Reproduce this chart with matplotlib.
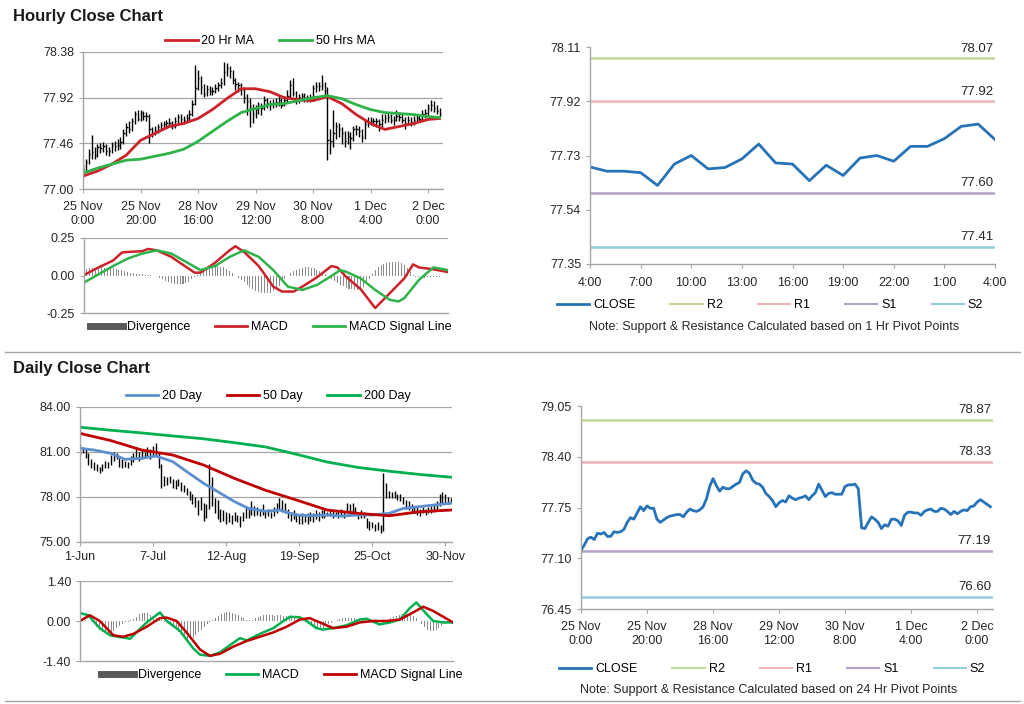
import matplotlib
matplotlib.use('Agg')
import matplotlib.pyplot as plt
from matplotlib.lines import Line2D
import numpy as np

plt.rcParams['font.family'] = ['Liberation Sans', 'DejaVu Sans']
plt.rcParams['font.size'] = 9

# ---------------- hourly data (125 bars) ----------------
h_close = [77.20, 77.27, 77.35, 77.37, 77.34, 77.42, 77.41, 77.43, 77.38, 77.38,
           77.44, 77.43, 77.44, 77.47, 77.56, 77.62, 77.60, 77.68, 77.76, 77.71,
           77.77, 77.74, 77.74, 77.60, 77.56, 77.59, 77.62, 77.64, 77.65, 77.66,
           77.66, 77.63, 77.69, 77.73, 77.71, 77.70, 77.72, 77.76, 77.86, 78.02,
           78.12, 78.03, 77.96, 78.01, 77.99, 77.99, 78.02, 78.05, 78.07, 78.18,
           78.22, 78.19, 78.10, 78.06, 78.05, 78.01, 77.93, 77.89, 77.84, 77.76,
           77.81, 77.84, 77.82, 77.90, 77.87, 77.85, 77.87, 77.88, 77.90, 77.85,
           77.90, 77.94, 78.05, 77.97, 77.89, 77.93, 77.94, 77.92, 77.92, 77.92,
           78.02, 78.04, 78.04, 78.05, 77.99, 77.49, 77.48, 77.56, 77.63, 77.60,
           77.56, 77.48, 77.53, 77.51, 77.60, 77.60, 77.58, 77.52, 77.65, 77.69,
           77.69, 77.68, 77.68, 77.65, 77.70, 77.72, 77.73, 77.70, 77.70, 77.74,
           77.73, 77.70, 77.66, 77.70, 77.67, 77.70, 77.72, 77.71, 77.76, 77.77,
           77.82, 77.85, 77.82, 77.79, 77.76]
h_high = [77.25, 77.30, 77.40, 77.54, 77.42, 77.45, 77.46, 77.47, 77.45, 77.42,
          77.47, 77.48, 77.50, 77.52, 77.60, 77.66, 77.68, 77.72, 77.79, 77.80,
          77.80, 77.79, 77.78, 77.76, 77.62, 77.63, 77.65, 77.67, 77.68, 77.70,
          77.72, 77.68, 77.73, 77.76, 77.76, 77.74, 77.76, 77.80, 77.90, 78.25,
          78.20, 78.14, 78.06, 78.05, 78.04, 78.03, 78.06, 78.08, 78.12, 78.28,
          78.27, 78.24, 78.20, 78.12, 78.08, 78.07, 78.03, 77.96, 77.92, 77.86,
          77.85, 77.88, 77.87, 77.94, 77.92, 77.90, 77.91, 77.92, 77.94, 77.92,
          77.94, 78.00, 78.10, 78.12, 77.99, 77.96, 77.97, 77.97, 77.95, 77.96,
          78.05, 78.08, 78.08, 78.15, 78.08, 78.03, 77.60, 77.80, 77.67, 77.66,
          77.62, 77.58, 77.58, 77.57, 77.63, 77.64, 77.63, 77.60, 77.70, 77.73,
          77.73, 77.72, 77.72, 77.71, 77.76, 77.76, 77.77, 77.76, 77.74, 77.80,
          77.78, 77.76, 77.73, 77.74, 77.73, 77.74, 77.76, 77.76, 77.80, 77.81,
          77.86, 77.90, 77.89, 77.85, 77.82]
h_low = [77.12, 77.18, 77.25, 77.30, 77.30, 77.32, 77.36, 77.37, 77.34, 77.33,
         77.36, 77.38, 77.39, 77.40, 77.45, 77.53, 77.56, 77.58, 77.65, 77.68,
         77.69, 77.70, 77.68, 77.46, 77.52, 77.54, 77.56, 77.59, 77.61, 77.62,
         77.62, 77.60, 77.61, 77.66, 77.66, 77.65, 77.67, 77.69, 77.74, 77.85,
         78.00, 77.96, 77.93, 77.94, 77.95, 77.95, 77.97, 77.99, 78.02, 78.05,
         78.14, 78.12, 78.06, 78.00, 77.98, 77.95, 77.87, 77.75, 77.62, 77.66,
         77.72, 77.76, 77.75, 77.80, 77.82, 77.80, 77.82, 77.83, 77.84, 77.82,
         77.84, 77.88, 77.92, 77.94, 77.86, 77.87, 77.89, 77.88, 77.88, 77.88,
         77.90, 77.98, 77.99, 78.00, 77.95, 77.29, 77.35, 77.42, 77.50, 77.52,
         77.45, 77.42, 77.45, 77.40, 77.48, 77.54, 77.52, 77.47, 77.50, 77.62,
         77.64, 77.63, 77.62, 77.58, 77.62, 77.66, 77.67, 77.66, 77.64, 77.68,
         77.68, 77.66, 77.60, 77.64, 77.63, 77.64, 77.67, 77.67, 77.69, 77.72,
         77.74, 77.79, 77.78, 77.76, 77.73]

# moving averages read every 5 bars
h_ma_x = [0, 5, 10, 15, 20, 25, 30, 35, 40, 45, 50, 55, 60, 65, 70, 75, 80, 85,
          90, 95, 100, 105, 110, 115, 120, 124]
h_ma20 = [77.13, 77.18, 77.25, 77.34, 77.49, 77.56, 77.63, 77.66, 77.71, 77.80,
          77.91, 78.01, 78.01, 77.98, 77.92, 77.90, 77.89, 77.93, 77.86, 77.75,
          77.66, 77.60, 77.63, 77.66, 77.70, 77.71]
h_ma50 = [77.16, 77.21, 77.25, 77.29, 77.30, 77.33, 77.36, 77.40, 77.48, 77.58,
          77.68, 77.77, 77.81, 77.85, 77.86, 77.89, 77.92, 77.94, 77.91, 77.85,
          77.80, 77.77, 77.76, 77.75, 77.73, 77.72]

h_macd_x = [0, 5, 10, 13, 15, 20, 22, 25, 30, 35, 38, 40, 45, 50, 52, 55, 60, 65,
            68, 72, 75, 80, 85, 87, 90, 95, 100, 105, 110, 113, 115, 120, 125]
h_macd = [0.003, 0.054, 0.10, 0.153, 0.157, 0.162, 0.177, 0.168, 0.124, 0.058,
          0.019, 0.019, 0.085, 0.168, 0.195, 0.157, 0.063, -0.074, -0.107, -0.107,
          -0.074, -0.012, 0.063, 0.054, -0.008, -0.091, -0.217, -0.118, -0.019,
          0.074, 0.054, 0.041, 0.023]
h_sig_x = [0, 5, 10, 15, 20, 25, 30, 35, 40, 45, 50, 55, 60, 65, 70, 75, 80, 85,
           88, 90, 95, 100, 105, 108, 110, 115, 120, 125]
h_sig = [-0.047, 0.008, 0.063, 0.113, 0.146, 0.168, 0.146, 0.091, 0.036, 0.063,
         0.124, 0.168, 0.124, 0.036, -0.074, -0.096, -0.063, -0.003, 0.036, 0.025,
         -0.019, -0.096, -0.162, -0.173, -0.151, -0.030, 0.054, 0.036]
h_div = [0.04, 0.045, 0.05, 0.05, 0.052, 0.054, 0.054, 0.052, 0.05, 0.05,
         0.048, 0.045, 0.04, 0.035, 0.03, 0.025, 0.02, 0.015, 0.012, 0.01,
         0.008, 0.006, 0.005, 0.003, 0.0, -0.005, -0.015, -0.025, -0.035, -0.045,
         -0.05, -0.055, -0.058, -0.058, -0.055, -0.05, -0.04, -0.025, -0.01, 0.005,
         0.02, 0.035, 0.045, 0.055, 0.06, 0.063, 0.063, 0.06, 0.055, 0.045,
         0.03, 0.015, 0.0, -0.015, -0.03, -0.045, -0.06, -0.075, -0.09, -0.1,
         -0.108, -0.115, -0.118, -0.118, -0.115, -0.105, -0.09, -0.07, -0.045, -0.02,
         0.0, 0.015, 0.028, 0.038, 0.045, 0.05, 0.054, 0.054, 0.052, 0.048,
         0.04, 0.03, 0.02, 0.008, -0.005, -0.02, -0.035, -0.05, -0.062, -0.072,
         -0.08, -0.088, -0.093, -0.096, -0.096, -0.09, -0.075, -0.05, -0.02, 0.01,
         0.035, 0.055, 0.07, 0.078, 0.083, 0.087, 0.09, 0.091, 0.09, 0.085,
         0.07, 0.05, 0.025, 0.005, -0.008, -0.012, -0.015, -0.015, -0.013, -0.012,
         -0.01, -0.01, -0.008, -0.006, -0.005]
h_ticks = [0, 20, 40, 60, 80, 100, 120]
h_tick_labels = ['25 Nov\n0:00', '25 Nov\n20:00', '28 Nov\n16:00', '29 Nov\n12:00',
                 '30 Nov\n8:00', '1 Dec\n4:00', '2 Dec\n0:00']

# ---------------- last 24 hours ----------------
day_close = [77.69, 77.675, 77.675, 77.67, 77.625, 77.70, 77.73, 77.683, 77.688,
             77.718, 77.77, 77.704, 77.70, 77.642, 77.696, 77.66, 77.721, 77.73,
             77.71, 77.762, 77.762, 77.789, 77.832, 77.84, 77.786]
day_tick_labels = ['4:00', '7:00', '10:00', '13:00', '16:00', '19:00', '22:00',
                   '1:00', '4:00']
pivot_names = ['R2', 'R1', 'S1', 'S2']
pivot_1h = [78.07, 77.92, 77.60, 77.41]
pivot_24h = [78.87, 78.33, 77.19, 76.60]
pivot_colors = ['#c3d69b', '#eab5b4', '#b3a2c7', '#92cddc']

# ---------------- daily data (133 bars) ----------------
d_high = [81.5, 81.3, 81.2, 80.9, 80.5, 80.3, 80.2, 80.0, 80.2, 80.4,
          80.3, 80.8, 81.0, 80.9, 80.6, 80.5, 80.4, 80.3, 80.7, 80.9,
          81.2, 81.0, 81.1, 81.0, 81.3, 81.2, 81.4, 81.6, 81.0, 80.2,
          79.4, 79.3, 79.4, 79.2, 79.1, 79.2, 79.0, 78.8, 78.6, 78.4,
          78.2, 78.0, 77.8, 78.0, 77.6, 77.5, 80.2, 79.3, 77.9, 77.8,
          77.2, 77.1, 77.0, 76.9, 76.8, 77.0, 76.8, 76.7, 77.0, 77.3,
          77.2, 77.7, 77.4, 77.3, 77.2, 77.5, 77.1, 77.2, 77.0, 77.3,
          77.6, 77.9, 77.8, 77.6, 77.2, 77.0, 77.1, 76.9, 76.8, 76.9,
          76.8, 76.9, 77.0, 76.9, 77.1, 77.0, 77.1, 77.2, 77.0, 77.2,
          77.1, 77.0, 77.1, 77.2, 77.0, 77.6, 77.5, 77.6, 77.3, 77.0,
          77.1, 77.0, 76.6, 76.4, 76.3, 76.2, 76.3, 76.1, 79.6, 78.9,
          78.4, 78.3, 78.4, 78.2, 78.2, 78.0, 77.8, 77.7, 77.5, 77.4,
          77.3, 77.2, 77.3, 77.2, 77.3, 77.4, 77.5, 77.7, 78.2, 78.3,
          78.2, 78.0, 77.9]
d_low = [80.8, 80.9, 80.6, 80.1, 79.9, 79.8, 79.7, 79.6, 79.7, 79.9,
         79.9, 80.1, 80.4, 80.5, 80.0, 79.9, 80.0, 79.9, 80.1, 80.3,
         80.5, 80.4, 80.5, 80.6, 80.7, 80.5, 80.7, 80.8, 79.9, 78.6,
         78.7, 78.8, 78.9, 78.6, 78.5, 78.7, 78.4, 78.3, 78.1, 77.8,
         77.5, 77.3, 76.8, 77.1, 76.4, 76.6, 77.2, 77.4, 76.9, 76.5,
         76.3, 76.4, 76.2, 76.3, 76.2, 76.4, 76.3, 76.0, 76.4, 76.6,
         76.6, 76.8, 76.7, 76.8, 76.7, 76.8, 76.6, 76.7, 76.6, 76.7,
         76.9, 77.1, 77.0, 76.9, 76.6, 76.4, 76.5, 76.3, 76.2, 76.2,
         76.3, 76.2, 76.4, 76.3, 76.5, 76.4, 76.6, 76.6, 76.7, 76.7,
         76.6, 76.7, 76.6, 76.8, 76.6, 76.9, 76.8, 76.9, 76.8, 76.5,
         76.6, 76.6, 75.9, 75.8, 75.9, 75.7, 75.8, 75.6, 75.7, 77.9,
         77.9, 77.9, 77.9, 77.8, 77.7, 77.5, 77.2, 77.1, 77.0, 76.9,
         76.8, 76.7, 76.9, 76.8, 76.9, 76.9, 77.0, 77.1, 77.4, 77.6,
         77.6, 77.5, 77.6]

d_ma20_x = [0, 5, 11, 16, 22, 27, 33, 38, 44, 49, 55, 60, 66, 71, 77, 82, 88, 93,
            99, 104, 110, 115, 121, 126, 132]
d_ma20 = [81.24, 81.13, 80.91, 80.51, 80.58, 80.73, 80.36, 79.69, 78.91, 78.36,
          77.69, 77.24, 77.05, 77.13, 76.80, 76.76, 76.80, 76.73, 76.80, 76.80,
          76.91, 77.24, 77.36, 77.47, 77.58]
d_ma_x = [0, 11, 22, 33, 44, 55, 66, 77, 88, 99, 110, 121, 132]
d_ma50 = [82.24, 81.76, 81.13, 80.80, 80.13, 79.24, 78.45, 77.80, 77.13, 76.91,
          76.75, 77.02, 77.13]
d_ma200 = [82.65, 82.45, 82.27, 82.07, 81.88, 81.62, 81.34, 80.85, 80.33, 79.97,
           79.72, 79.50, 79.32]

d_macd_x = [0, 3, 5, 7, 10.6, 17.7, 21, 23.6, 28.3, 30.7, 35.4, 40, 42.5, 46, 49.5,
            53, 56.6, 59, 63.7, 68.4, 72, 74.3, 77.8, 80.2, 83.7, 86, 89.6, 94.3,
            99, 101.4, 106, 109.7, 113.2, 116.7, 119, 122.6, 125, 128.5, 132]
d_macd = [0.28, 0.2, -0.03, -0.25, -0.5, -0.62, -0.3, -0.05, 0.3, 0.0,
          -0.35, -0.95, -1.18, -1.22, -1.1, -0.85, -0.6, -0.68, -0.45, -0.25,
          0.0, 0.15, 0.13, 0.0, -0.25, -0.3, -0.25, -0.15, 0.05, 0.08,
          -0.12, -0.05, 0.05, 0.45, 0.65, 0.25, 0.0, -0.05, -0.05]
d_sig_x = [0, 3.5, 7, 11.8, 15.3, 18.9, 23.6, 28.3, 30.7, 34.2, 37.7, 42.5, 46,
           49.5, 54.2, 59, 63.7, 68.4, 73.1, 77.8, 81.3, 84.9, 89.6, 94.3, 99,
           103.8, 108.5, 113.2, 117.9, 121.5, 125, 128.5, 132]
d_sig = [0.0, 0.2, 0.0, -0.5, -0.55, -0.45, -0.2, 0.1, 0.12, 0.0, -0.4, -1.0,
         -1.22, -1.15, -0.9, -0.7, -0.55, -0.4, -0.2, 0.05, 0.1, -0.05, -0.25,
         -0.2, -0.05, 0.0, 0.0, 0.05, 0.3, 0.5, 0.35, 0.15, -0.05]
d_div = [0.05, 0.08, 0.05, 0.0, -0.05, -0.12, -0.22, -0.32, -0.4, -0.44,
         -0.44, -0.4, -0.34, -0.26, -0.18, -0.1, -0.05, -0.02, 0.02, 0.08,
         0.15, 0.24, 0.29, 0.29, 0.27, 0.22, 0.16, 0.1, 0.05, 0.02,
         -0.02, -0.06, -0.12, -0.2, -0.3, -0.4, -0.5, -0.57, -0.62, -0.62,
         -0.58, -0.5, -0.4, -0.3, -0.2, -0.1, -0.02, 0.05, 0.12, 0.18,
         0.24, 0.28, 0.31, 0.31, 0.29, 0.25, 0.2, 0.15, 0.1, 0.05,
         0.03, 0.05, 0.1, 0.15, 0.18, 0.2, 0.21, 0.2, 0.2, 0.19,
         0.2, 0.2, 0.19, 0.18, 0.17, 0.15, 0.12, 0.08, 0.05, 0.0,
         -0.05, -0.12, -0.18, -0.24, -0.27, -0.27, -0.24, -0.18, -0.12, -0.06,
         0.0, 0.04, 0.07, 0.09, 0.1, 0.1, 0.1, 0.09, 0.08, 0.06,
         0.04, 0.02, 0.0, -0.04, -0.06, -0.06, -0.05, -0.03, 0.0, 0.05,
         0.1, 0.15, 0.19, 0.22, 0.25, 0.26, 0.26, 0.24, 0.18, 0.1,
         0.0, -0.12, -0.22, -0.3, -0.35, -0.35, -0.3, -0.24, -0.18, -0.12,
         -0.08, -0.05, -0.03]
d_ticks = [0, 26, 52, 78, 104, 130]
d_tick_labels = ['1-Jun', '7-Jul', '12-Aug', '19-Sep', '25-Oct', '30-Nov']

RED = '#cc2229'
GREEN = '#2db34a'
BLUE = '#5b8fd0'
CLOSE_BLUE = '#2673b8'
GRID = '#a6a6a6'
TXT = '#262626'
W, H = 1024, 704


def rect(x0, y0, x1, y1):
    return [x0 / W, 1 - y1 / H, (x1 - x0) / W, (y1 - y0) / H]


def style(ax, grid=True):
    for s in ['top', 'right']:
        ax.spines[s].set_visible(False)
    for s in ['left', 'bottom']:
        ax.spines[s].set_color(GRID)
        ax.spines[s].set_linewidth(1.0)
    ax.tick_params(colors=GRID, labelcolor=TXT, labelsize=9, length=3, width=0.8)
    if grid:
        ax.yaxis.grid(True, color=GRID, lw=0.9)
        ax.set_axisbelow(True)


def legend(handles, labels, cx, cy, colsp=2.0, hl=2.6):
    fig.legend(handles, labels, loc='center', bbox_to_anchor=(cx / W, 1 - cy / H),
               ncol=len(labels), frameon=False, fontsize=9, handlelength=hl,
               handletextpad=0.3, columnspacing=colsp, borderpad=0)


def ln(c, lw=2.0):
    return Line2D([0], [0], color=c, lw=lw)


fig = plt.figure(figsize=(10.24, 7.04), dpi=100)
fig.text(13 / W, 1 - 16 / H, 'Hourly Close Chart', fontsize=12, fontweight='bold',
         va='center', color='#1a1a1a')
fig.text(13 / W, 1 - 369 / H, 'Daily Close Chart', fontsize=12, fontweight='bold',
         va='center', color='#1a1a1a')
fig.add_artist(Line2D([5 / W, 1020 / W], [1 - 352 / H, 1 - 352 / H], color='#a6a6a6', lw=1))
fig.add_artist(Line2D([5 / W, 1020 / W], [1 - 701 / H, 1 - 701 / H], color='#a6a6a6', lw=1))

# ---- hourly price ----
ax = fig.add_axes(rect(83, 52, 443, 189))
style(ax)
hx = np.arange(len(h_close))
ax.vlines(hx, h_low, h_high, color='black', lw=1.0)
ax.hlines(h_close, hx, hx + 0.5, color='black', lw=1.0)
ax.plot(h_ma_x, h_ma20, color=RED, lw=2.0)
ax.plot(h_ma_x, h_ma50, color=GREEN, lw=2.0)
ax.set_xlim(0, 125.2)
ax.set_ylim(77.00, 78.38)
ax.set_yticks([77.00, 77.46, 77.92, 78.38])
ax.set_yticklabels(['77.00', '77.46', '77.92', '78.38'])
ax.set_xticks(h_ticks)
ax.set_xticklabels(h_tick_labels, linespacing=1.2)
ax.tick_params(axis='x', pad=6)
legend([ln(RED), ln(GREEN)], ['20 Hr MA', '50 Hrs MA'], 270, 41)

# ---- hourly MACD ----
ax = fig.add_axes(rect(84, 238, 448, 313))
style(ax)
ax.bar(hx, h_div, width=0.35, color='#8c8c8c')
ax.plot(h_macd_x, h_macd, color=RED, lw=1.8)
ax.plot(h_sig_x, h_sig, color=GREEN, lw=1.8)
ax.set_xlim(0, 125)
ax.set_ylim(-0.25, 0.25)
ax.set_yticks([-0.25, 0.0, 0.25])
ax.set_yticklabels(['-0.25', '0.00', '0.25'])
ax.yaxis.grid(False)
ax.axhline(0.25, color=GRID, lw=0.9)
ax.set_xticks([])
legend([ln('#595959', 5), ln(RED), ln(GREEN)], ['Divergence', 'MACD', 'MACD Signal Line'],
       271, 327)

# ---- last 24 hours with 1h pivots ----
ax = fig.add_axes(rect(590, 47, 995, 264))
style(ax, grid=False)
for v, c in zip(pivot_1h, pivot_colors):
    ax.axhline(v, color=c, lw=1.8)
    ax.text(23.9, v + 0.012, f'{v:.2f}', ha='right', va='bottom', fontsize=9.5, color=TXT)
ax.plot(np.arange(len(day_close)), day_close, color=CLOSE_BLUE, lw=2.0)
ax.set_xlim(0, 24)
ax.set_ylim(77.35, 78.11)
ax.set_yticks([77.35, 77.54, 77.73, 77.92, 78.11])
ax.set_yticklabels(['77.35', '77.54', '77.73', '77.92', '78.11'])
ax.set_xticks(np.arange(0, 25, 3))
ax.set_xticklabels(day_tick_labels)
ax.tick_params(axis='x', pad=6)
legend([ln(CLOSE_BLUE)] + [ln(c, 1.5) for c in pivot_colors], ['CLOSE'] + pivot_names,
       770, 305, colsp=2.8)
fig.text(774 / W, 1 - 327 / H, 'Note: Support & Resistance Calculated based on 1 Hr Pivot Points',
         ha='center', va='center', fontsize=9, color=TXT)

# ---- daily price ----
ax = fig.add_axes(rect(80, 407, 452, 542))
style(ax)
dx = np.arange(len(d_high))
ax.vlines(dx, d_low, d_high, color='black', lw=1.0)
ax.plot(d_ma20_x, d_ma20, color=BLUE, lw=2.0)
ax.plot(d_ma_x, d_ma50, color='#c00000', lw=2.0)
ax.plot(d_ma_x, d_ma200, color='#00b050', lw=2.0)
ax.set_xlim(0, 132.4)
ax.set_ylim(75, 84)
ax.set_yticks([75, 78, 81, 84])
ax.set_yticklabels(['75.00', '78.00', '81.00', '84.00'])
ax.set_xticks(d_ticks)
ax.set_xticklabels(d_tick_labels)
legend([ln(BLUE), ln('#c00000'), ln('#00b050')], ['20 Day', '50 Day', '200 Day'], 268, 396)

# ---- daily MACD ----
ax = fig.add_axes(rect(80, 581, 453, 661))
style(ax)
ax.bar(dx, d_div, width=0.35, color='#8c8c8c')
ax.plot(d_macd_x, d_macd, color='#00b050', lw=1.8)
ax.plot(d_sig_x, d_sig, color='#c00000', lw=1.8)
ax.set_xlim(0, 132)
ax.set_ylim(-1.40, 1.40)
ax.set_yticks([-1.40, 0.0, 1.40])
ax.set_yticklabels(['-1.40', '0.00', '1.40'])
ax.yaxis.grid(False)
ax.axhline(1.40, color=GRID, lw=0.9)
ax.set_xticks([])
legend([ln('#595959', 5), ln('#00b050'), ln('#c00000')], ['Divergence', 'MACD', 'MACD Signal Line'],
       282, 675)

# ---- hourly close with 24h pivots ----
ax = fig.add_axes(rect(581, 406, 993, 609))
style(ax, grid=False)
for v, c in zip(pivot_24h, pivot_colors):
    ax.axhline(v, color=c, lw=1.8)
    ax.text(124.2, v + 0.05, f'{v:.2f}', ha='right', va='bottom', fontsize=9.5, color=TXT)
ax.plot(hx, h_close, color=CLOSE_BLUE, lw=2.0)
ax.set_xlim(0, 124.8)
ax.set_ylim(76.45, 79.05)
ax.set_yticks([76.45, 77.10, 77.75, 78.40, 79.05])
ax.set_yticklabels(['76.45', '77.10', '77.75', '78.40', '79.05'])
ax.set_xticks(h_ticks)
ax.set_xticklabels(h_tick_labels, linespacing=1.2)
ax.tick_params(axis='x', pad=6)
legend([ln(CLOSE_BLUE)] + [ln(c, 1.5) for c in pivot_colors], ['CLOSE'] + pivot_names,
       772, 669, colsp=2.8)
fig.text(769 / W, 1 - 690 / H, 'Note: Support & Resistance Calculated based on 24 Hr Pivot Points',
         ha='center', va='center', fontsize=9, color=TXT)

fig.savefig('out.png', dpi=100)
